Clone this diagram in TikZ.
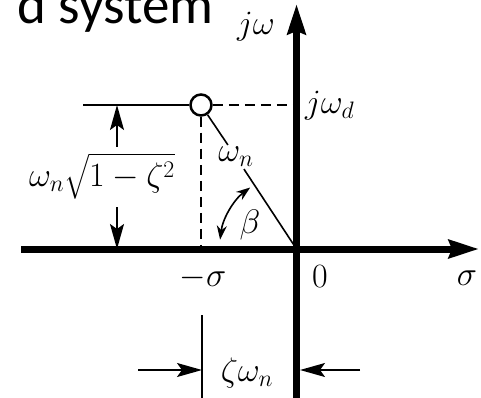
\documentclass[tikz,border=0pt]{standalone}
\usepackage{fix-cm}
\usepackage{amsmath}
\usepackage{fontspec}
\newfontfamily\titlefont{Carlito}
\usetikzlibrary{arrows.meta, positioning}

\begin{document}
\begin{tikzpicture}[x=1pt, y=1pt,
    axis/.style={line width=7pt, -{Stealth[length=30pt, width=18pt, inset=3pt]}},
    guide/.style={line width=1.6pt},
    dashedguide/.style={line width=1.6pt, dash pattern=on 10pt off 6pt},
    dim/.style={line width=1.6pt, -{Stealth[length=25pt, width=14pt, inset=5pt]}},
    lbl/.style={font=\fontsize{34}{40}\selectfont, inner sep=2pt}]
    \clip (0,0) rectangle (481,-398);
    \node[font=\titlefont\fontsize{55}{62}\selectfont, anchor=base east, inner sep=0pt] (title) at (214,-24) {d system};
    \coordinate (O) at (296.5,-249);
    \coordinate (xl) at (21,-249);
    \coordinate (xr) at (479,-249);
    \coordinate (yb) at (296.5,-402);
    \coordinate (yt) at (296.5,-4);
    \draw[axis] (xl) -- (xr);
    \draw[axis] (yb) -- (yt);
    \node[draw, circle, line width=2.5pt, minimum size=21pt, inner sep=0pt] (p) at (201,-105) {};
    \coordinate (hl) at (83,-105);
    \draw[guide] (hl) -- (p);
    \draw[dashedguide] (p) -- (p -| O);
    \draw[dashedguide] (p) -- (p |- O);
    \node[lbl] (wn) at (236,-157) {$\omega_n$};
    \draw[guide] (p) -- (wn);
    \draw[guide] (wn) -- (O);
    \node[lbl] (jw) at (256,-27) {$j\omega$};
    \node[lbl, anchor=west] (jwd) at (303,-106) {$j\omega_d$};
    \node[lbl] (beta) at (250,-225) {$\beta$};
    \draw[guide, {Stealth[length=14pt, width=10pt]}-{Stealth[length=14pt, width=10pt]}]
      ([shift={(127:77pt)}]O) arc[start angle=127, end angle=173, radius=77pt];
    \node[lbl] (wnd) at (102,-176) {$\omega_n\sqrt{1-\zeta^2}$};
    \coordinate (d1) at (117,-147);
    \coordinate (d2) at (117,-207);
    \draw[dim] (d1) -- (d1 |- hl);
    \draw[dim] (d2) -- (d2 |- O);
    \node[lbl] (ms) at (203,-278) {$-\sigma$};
    \node[lbl] (zero) at (320,-277) {$0$};
    \node[lbl] (sig) at (467,-278) {$\sigma$};
    \coordinate (b1) at (202,-315);
    \coordinate (b2) at (202,-402);
    \draw[guide] (b1) -- (b2);
    \node[lbl] (zwn) at (247,-373) {$\zeta\omega_n$};
    \coordinate (la) at (138,-370);
    \coordinate (ra) at (360,-370);
    \draw[dim] (la) -- (la -| b1);
    \draw[dim] (ra) -- ([xshift=3.5pt]ra -| O);
\end{tikzpicture}
\end{document}
